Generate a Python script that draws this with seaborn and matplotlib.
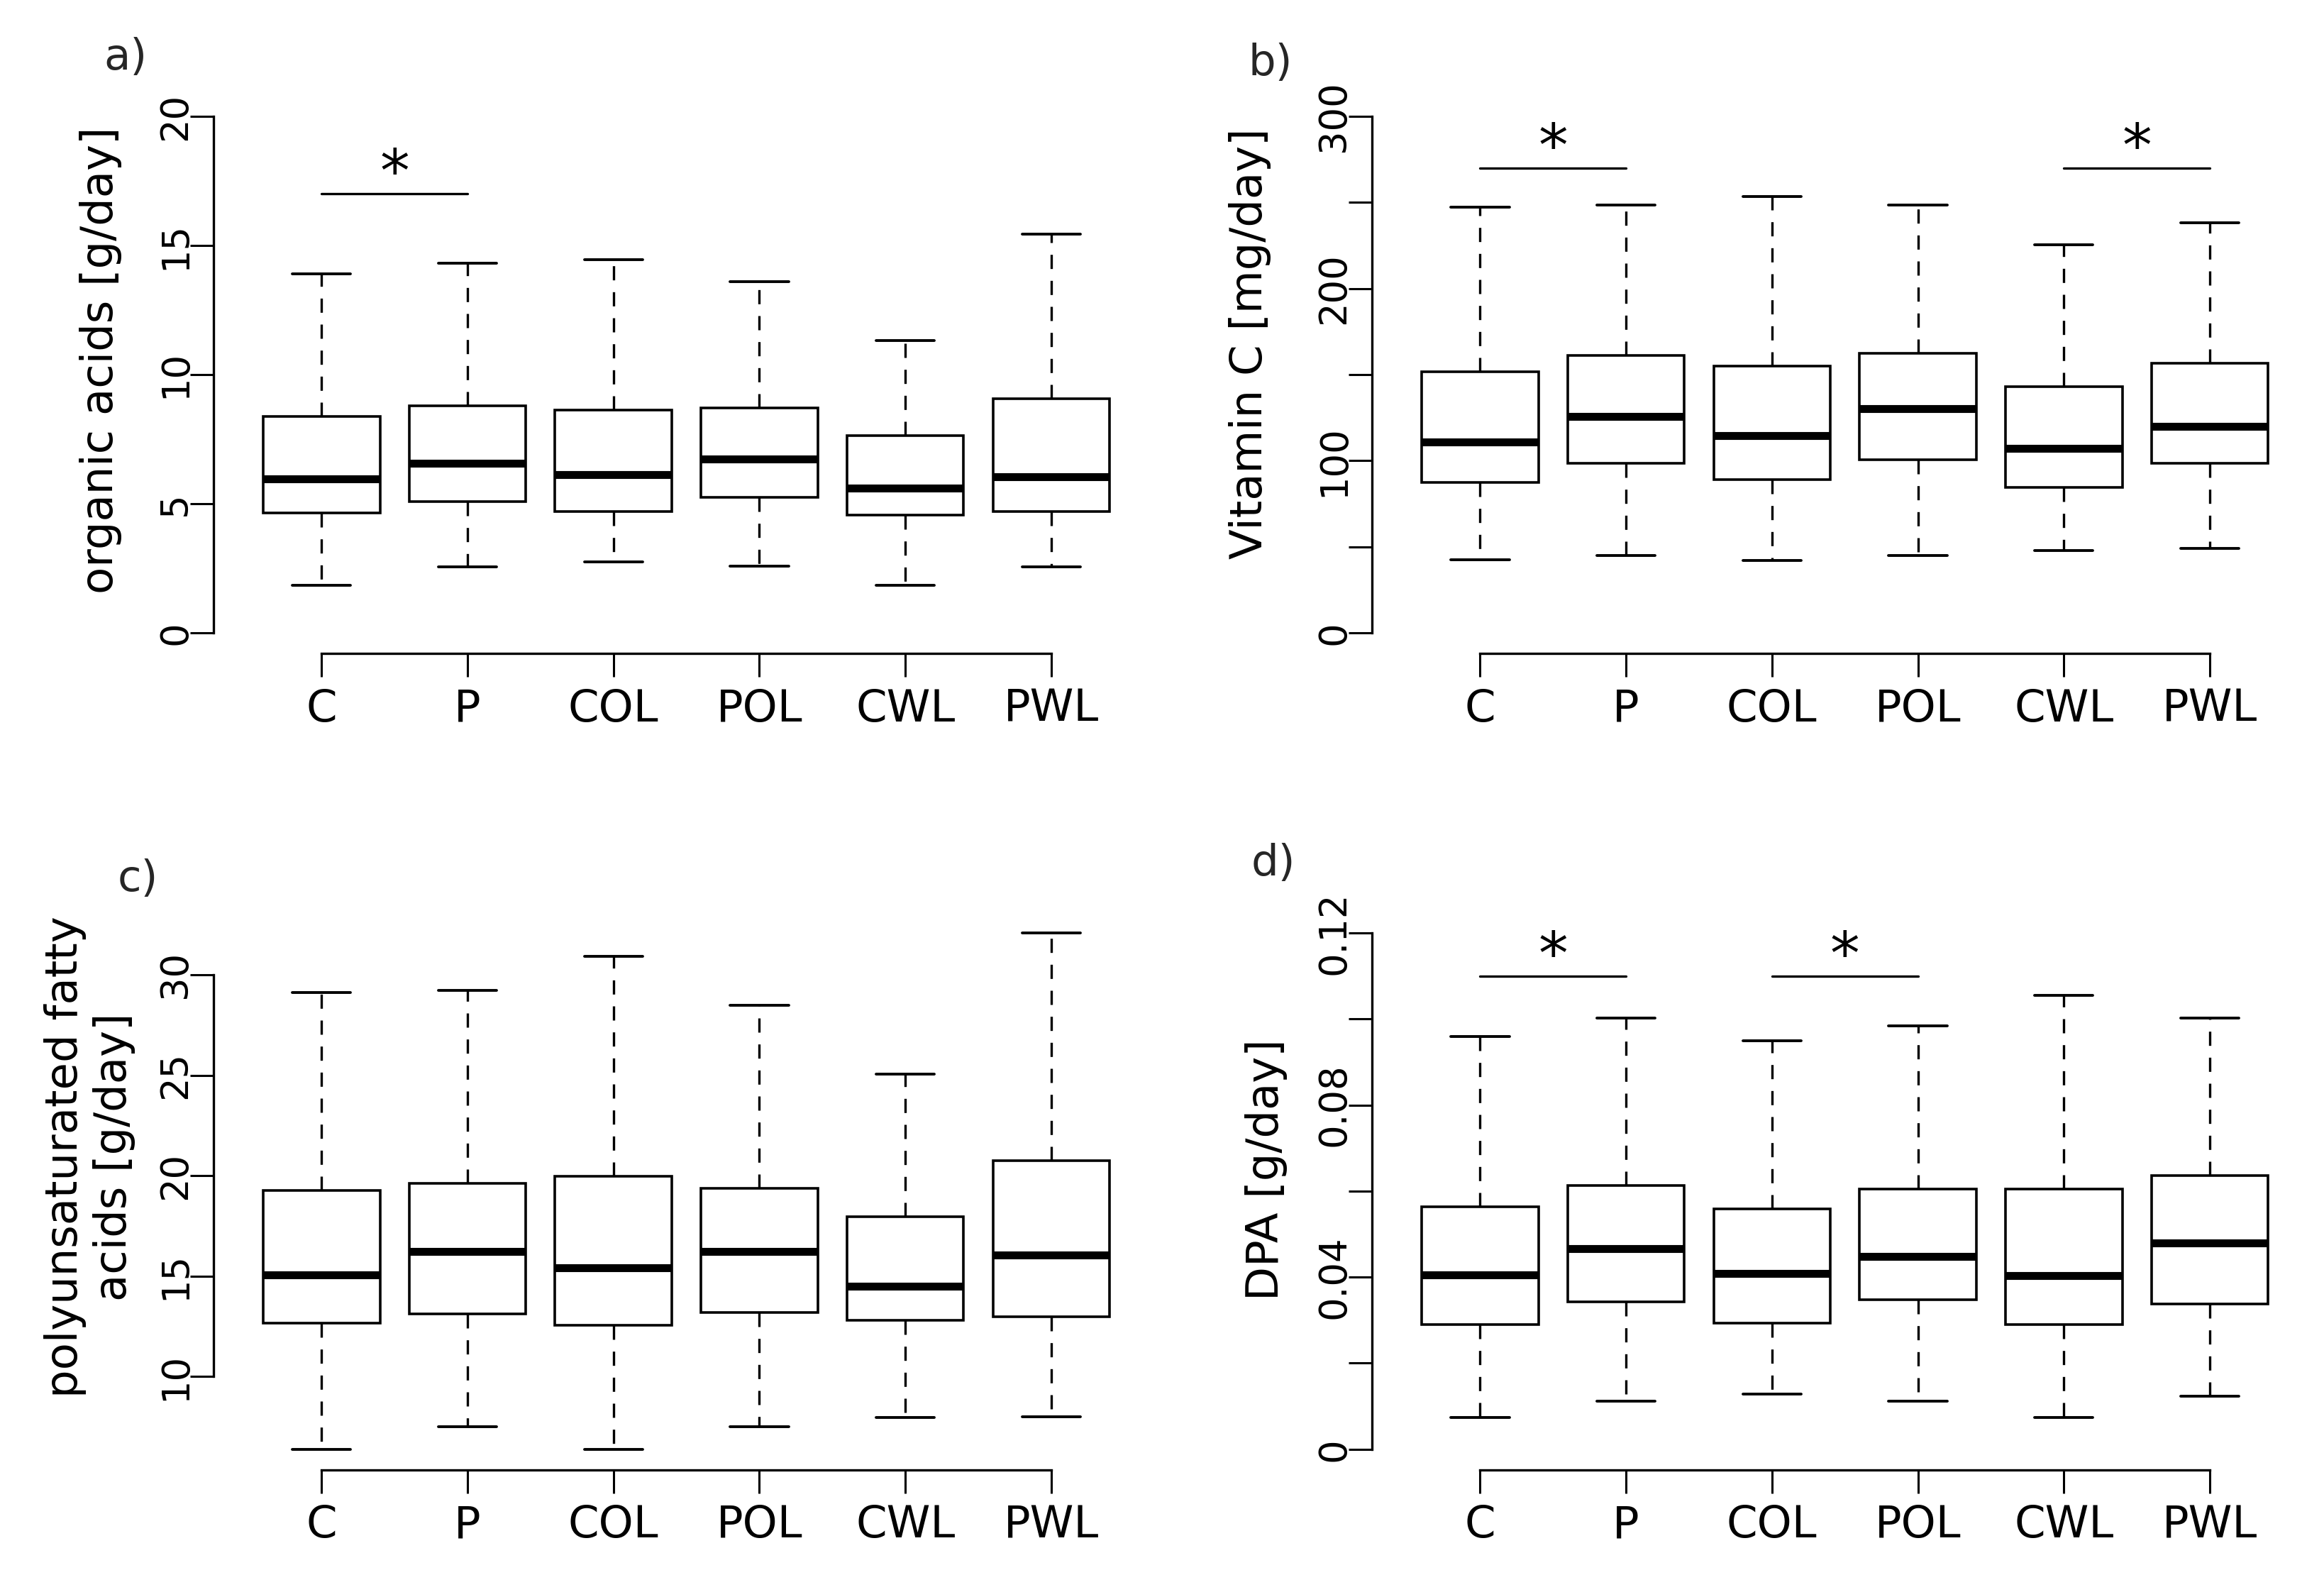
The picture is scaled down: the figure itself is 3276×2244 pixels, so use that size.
import numpy as np
import pandas as pd
import matplotlib.pyplot as plt
import seaborn as sns

# groups on the x axis
groups = ["C", "P", "COL", "POL", "CWL", "PWL"]

# a) organic acids [g/day]  (whisker low, Q1, median, Q3, whisker high)
oa_low = [1.84, 2.54, 2.73, 2.58, 1.84, 2.54]
oa_q1 = [4.65, 5.08, 4.69, 5.23, 4.57, 4.69]
oa_med = [5.97, 6.57, 6.12, 6.72, 5.60, 6.05]
oa_q3 = [8.37, 8.78, 8.62, 8.70, 7.64, 9.07]
oa_high = [13.91, 14.30, 14.46, 13.60, 11.32, 15.45]

# b) vitamin C [mg/day]
vc_low = [42.2, 45.0, 42.0, 45.0, 47.7, 48.8]
vc_q1 = [87.5, 98.5, 89.0, 100.6, 84.3, 98.3]
vc_med = [111.0, 125.6, 114.5, 130.2, 107.0, 120.0]
vc_q3 = [151.7, 161.0, 155.0, 162.2, 143.0, 156.4]
vc_high = [247.4, 248.3, 253.5, 248.3, 225.3, 238.0]

# c) polyunsaturated fatty acids [g/day]
pufa_low = [6.39, 7.50, 6.39, 7.50, 7.97, 8.02]
pufa_q1 = [12.67, 13.12, 12.55, 13.19, 12.82, 12.97]
pufa_med = [15.07, 16.24, 15.42, 16.24, 14.50, 16.06]
pufa_q3 = [19.28, 19.63, 19.98, 19.38, 17.95, 20.74]
pufa_high = [29.13, 29.23, 30.92, 28.49, 25.07, 32.08]

# d) DPA [g/day]
dpa_low = [0.0073, 0.0111, 0.0128, 0.0111, 0.0073, 0.0123]
dpa_q1 = [0.0289, 0.0343, 0.0293, 0.0347, 0.0289, 0.0338]
dpa_med = [0.0406, 0.0466, 0.0408, 0.0448, 0.0403, 0.0479]
dpa_q3 = [0.0564, 0.0613, 0.0559, 0.0605, 0.0604, 0.0636]
dpa_high = [0.0959, 0.1002, 0.0949, 0.0984, 0.1055, 0.1002]

# significance brackets (pairs of group indices) and their heights
oa_sig = [(0, 1)]
oa_sig_y = 17.0
vc_sig = [(0, 1), (4, 5)]
vc_sig_y = 270.0
pufa_sig = []
pufa_sig_y = None
dpa_sig = [(0, 1), (2, 3)]
dpa_sig_y = 0.110

# tick values
oa_ticks = [0, 5, 10, 15, 20]
oa_labels = ["0", "5", "10", "15", "20"]
vc_ticks = [0, 50, 100, 150, 200, 250, 300]
vc_labels = ["0", "", "100", "", "200", "", "300"]
pufa_ticks = [10, 15, 20, 25, 30]
pufa_labels = ["10", "15", "20", "25", "30"]
dpa_ticks = [0, 0.02, 0.04, 0.06, 0.08, 0.10, 0.12]
dpa_labels = ["0", "", "0.04", "", "0.08", "", "0.12"]


def to_long(low, q1, med, q3, high):
    # five values per group give exactly these quartiles and whisker ends
    rows = []
    for i, g in enumerate(groups):
        for v in (low[i], q1[i], med[i], q3[i], high[i]):
            rows.append({"group": g, "value": v})
    return pd.DataFrame(rows)


sns.set_theme(style="ticks")
plt.rcParams["font.family"] = ["DejaVu Sans"]

fig = plt.figure(figsize=(16.38, 11.22), dpi=200)

panels = [
    dict(rect=[0.0919, 0.5896, 0.4069, 0.3503], df=to_long(oa_low, oa_q1, oa_med, oa_q3, oa_high),
         ylabel="organic acids [g/day]", ylim=(-0.8, 20.8), ticks=oa_ticks, labels=oa_labels,
         sig=oa_sig, sig_y=oa_sig_y, lab="a)", lab_xy=(0.0540, 0.9635), ylab_xy=(-0.119, 0.525)),
    dict(rect=[0.5904, 0.5896, 0.4069, 0.3503], df=to_long(vc_low, vc_q1, vc_med, vc_q3, vc_high),
         ylabel="Vitamin C [mg/day]", ylim=(-12, 312), ticks=vc_ticks, labels=vc_labels,
         sig=vc_sig, sig_y=vc_sig_y, lab="b)", lab_xy=(0.5465, 0.9600), ylab_xy=(-0.129, 0.556)),
    dict(rect=[0.0919, 0.0767, 0.4069, 0.3503], df=to_long(pufa_low, pufa_q1, pufa_med, pufa_q3, pufa_high),
         ylabel="polyunsaturated fatty\nacids [g/day]", ylim=(5.36, 33.11), ticks=pufa_ticks, labels=pufa_labels,
         sig=pufa_sig, sig_y=pufa_sig_y, lab="c)", lab_xy=(0.0592, 0.4478), ylab_xy=(-0.131, 0.561)),
    dict(rect=[0.5904, 0.0767, 0.4069, 0.3503], df=to_long(dpa_low, dpa_q1, dpa_med, dpa_q3, dpa_high),
         ylabel="DPA [g/day]", ylim=(-0.0048, 0.1248), ticks=dpa_ticks, labels=dpa_labels,
         sig=dpa_sig, sig_y=dpa_sig_y, lab="d)", lab_xy=(0.5480, 0.4573), ylab_xy=(-0.112, 0.539)),
]

for p in panels:
    ax = fig.add_axes(p["rect"])
    ax.set_facecolor("none")
    sns.boxplot(data=p["df"], x="group", y="value", order=groups, ax=ax,
                whis=(0, 100), width=0.8, color="white", saturation=1,
                linecolor="black", linewidth=1.3, showfliers=False,
                medianprops={"linewidth": 4.0, "color": "black", "solid_capstyle": "butt"},
                whiskerprops={"linestyle": (0, (6, 5)), "linewidth": 1.2},
                capprops={"linewidth": 1.4})

    # significance brackets with stars
    for i, j in p["sig"]:
        ax.plot([i, j], [p["sig_y"], p["sig_y"]], color="black", lw=1.2)
        ax.annotate("*", xy=((i + j) / 2, p["sig_y"]), xytext=(0, 1),
                    textcoords="offset points", ha="center", va="baseline",
                    fontsize=30, color="black")

    ax.set_xlim(-0.74, 5.74)
    ax.set_ylim(*p["ylim"])
    ax.set_yticks(p["ticks"])
    ax.set_yticklabels(p["labels"])
    ax.set_xlabel("")
    ax.set_ylabel(p["ylabel"], fontsize=22.5, va="center", ha="center", color="black")
    ax.yaxis.set_label_coords(*p["ylab_xy"])

    sns.despine(ax=ax)
    ax.spines["left"].set_bounds(p["ticks"][0], p["ticks"][-1])
    ax.spines["bottom"].set_bounds(0, len(groups) - 1)
    for s in ("left", "bottom"):
        ax.spines[s].set_linewidth(1.2)
        ax.spines[s].set_color("black")

    ax.tick_params(axis="x", length=12, width=1.1, pad=5.5, labelsize=22.5, colors="black")
    ax.tick_params(axis="y", length=12, width=1.1, pad=-2, labelsize=19, colors="black",
                   labelrotation=90)
    for t in ax.get_yticklabels():
        t.set_va("center")

    fig.text(p["lab_xy"][0], p["lab_xy"][1], p["lab"], fontsize=22, ha="center", va="center")

fig.savefig("out.png", dpi=200, facecolor="white")
